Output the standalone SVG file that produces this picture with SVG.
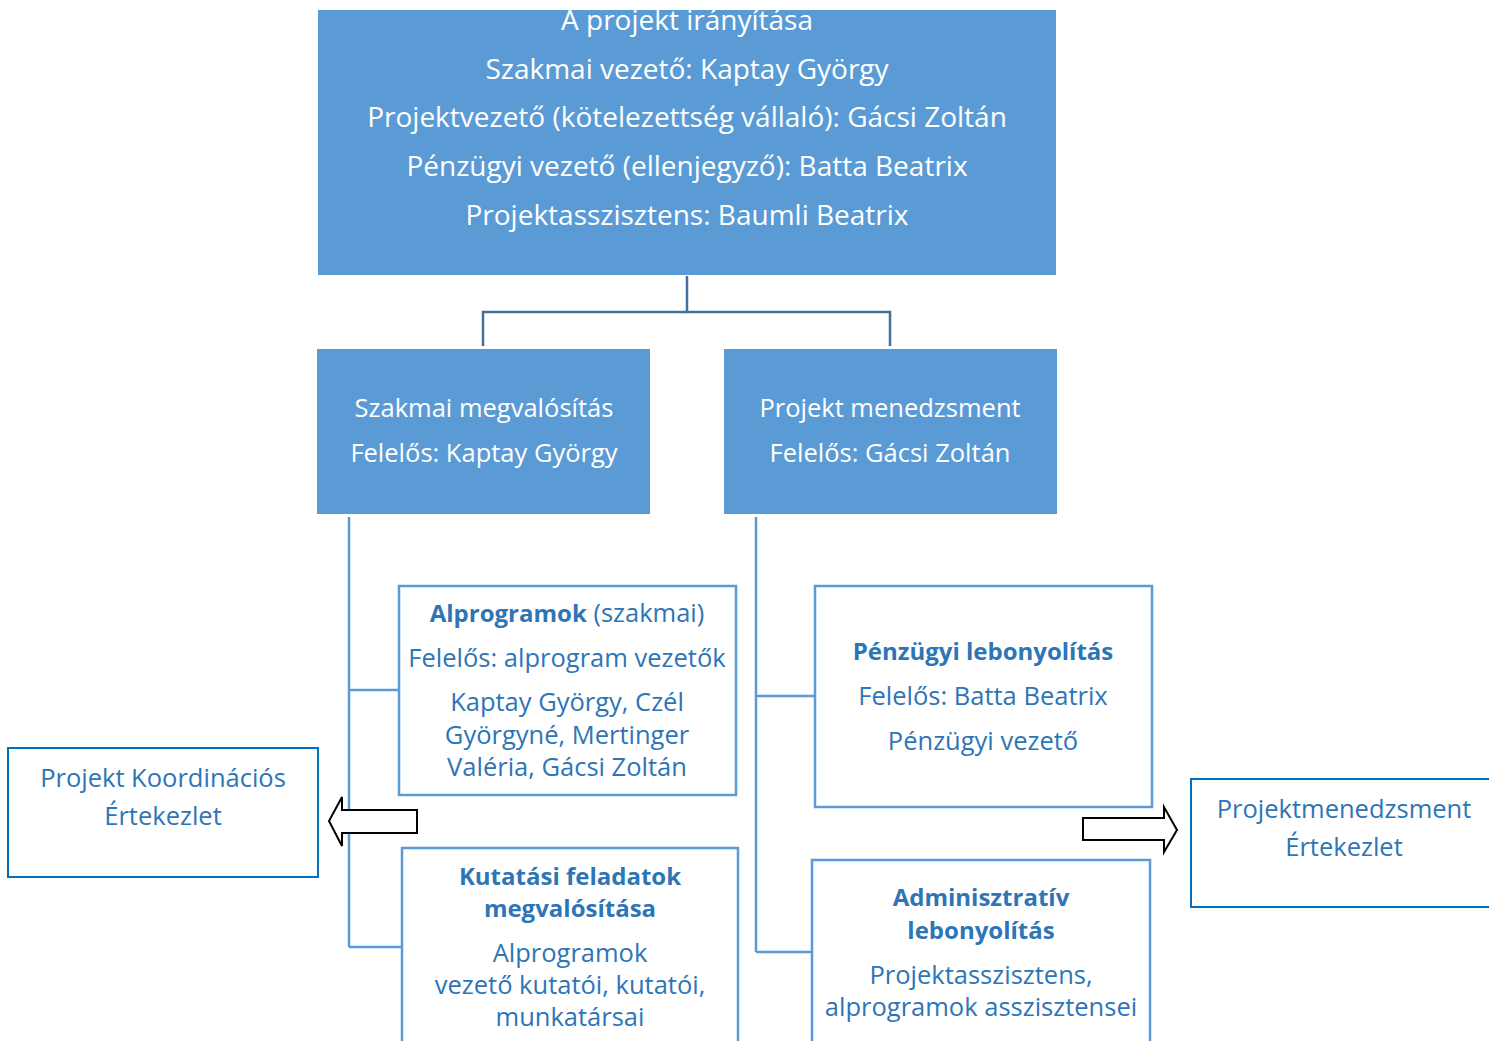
<svg xmlns="http://www.w3.org/2000/svg" width="1489" height="1041" viewBox="0 0 1489 1041">
<style>
text{font-family:"Open Sans","Noto Sans","Liberation Sans",sans-serif;text-anchor:middle}
.w{fill:#ffffff}
.b{fill:#2E75B6}
.t{font-size:28px}
.m{font-size:25.5px}
.s{font-size:25.5px}
.bold{font-weight:700;font-size:24px}
.filled{fill:#5B9BD5}
.box{fill:#ffffff;stroke:#5B9BD5;stroke-width:2.5}
.box2{fill:#ffffff;stroke:#0070C0;stroke-width:2}
.c1{fill:none;stroke:#41719C;stroke-width:2.5}
.c2{fill:none;stroke:#5B9BD5;stroke-width:2.5}
.arr{fill:#ffffff;stroke:#000000;stroke-width:2;stroke-linejoin:miter}
</style>
<rect width="1489" height="1041" fill="#ffffff"/>
<g id="connectors">
<polyline class="c1" points="687,276 687,312 483,312 483,346"/>
<polyline class="c1" points="687,312 890,312 890,346"/>
<line class="c2" x1="349" y1="517" x2="349" y2="947"/>
<line class="c2" x1="349" y1="690" x2="399" y2="690"/>
<line class="c2" x1="349" y1="947" x2="402" y2="947"/>
<line class="c2" x1="756" y1="517" x2="756" y2="952"/>
<line class="c2" x1="756" y1="696" x2="815" y2="696"/>
<line class="c2" x1="756" y1="952" x2="812" y2="952"/>
<polygon class="arr" points="417,810 342,810 342,797 329,821 342,846 342,833 417,833"/>
<polygon class="arr" points="1083,818 1164,818 1164,807 1177,830 1164,852 1164,840 1083,840"/>
</g>
<g id="top">
<rect class="filled" x="318" y="10" width="738" height="265"/>
<text class="w t" x="687" y="30">A projekt irányítása</text>
<text class="w t" x="687" y="79">Szakmai vezető: Kaptay György</text>
<text class="w t" x="687" y="127">Projektvezető (kötelezettség vállaló): Gácsi Zoltán</text>
<text class="w t" x="687" y="176">Pénzügyi vezető (ellenjegyző): Batta Beatrix</text>
<text class="w t" x="687" y="225">Projektasszisztens: Baumli Beatrix</text>
</g>
<g id="szakmai">
<rect class="filled" x="317" y="349" width="333" height="165"/>
<text class="w m" x="484" y="417">Szakmai megvalósítás</text>
<text class="w m" x="484" y="462">Felelős: Kaptay György</text>
</g>
<g id="menedzsment">
<rect class="filled" x="724" y="349" width="333" height="165"/>
<text class="w m" x="890" y="417">Projekt menedzsment</text>
<text class="w m" x="890" y="462">Felelős: Gácsi Zoltán</text>
</g>
<g id="alprogramok">
<rect class="box" x="399" y="586" width="337" height="209"/>
<text class="b s" x="567" y="622"><tspan class="bold">Alprogramok</tspan> (szakmai)</text>
<text class="b s" x="567" y="667">Felelős: alprogram vezetők</text>
<text class="b s" x="567" y="711">Kaptay György, Czél</text>
<text class="b s" x="567" y="744">Györgyné, Mertinger</text>
<text class="b s" x="567" y="776">Valéria, Gácsi Zoltán</text>
</g>
<g id="kutatasi">
<rect class="box" x="402" y="848" width="336" height="200"/>
<text class="b s bold" x="570" y="885">Kutatási feladatok</text>
<text class="b s bold" x="570" y="917">megvalósítása</text>
<text class="b s" x="570" y="962">Alprogramok</text>
<text class="b s" x="570" y="994">vezető kutatói, kutatói,</text>
<text class="b s" x="570" y="1026">munkatársai</text>
</g>
<g id="penzugyi">
<rect class="box" x="815" y="586" width="337" height="221"/>
<text class="b s bold" x="983" y="660">Pénzügyi lebonyolítás</text>
<text class="b s" x="983" y="705">Felelős: Batta Beatrix</text>
<text class="b s" x="983" y="750">Pénzügyi vezető</text>
</g>
<g id="adminisztrativ">
<rect class="box" x="812" y="860" width="338" height="190"/>
<text class="b s bold" x="981" y="906">Adminisztratív</text>
<text class="b s bold" x="981" y="939">lebonyolítás</text>
<text class="b s" x="981" y="984">Projektasszisztens,</text>
<text class="b s" x="981" y="1016">alprogramok asszisztensei</text>
</g>
<g id="koordinacios">
<rect class="box2" x="8" y="748" width="310" height="129"/>
<text class="b s" x="163" y="787">Projekt Koordinációs</text>
<text class="b s" x="163" y="825">Értekezlet</text>
</g>
<g id="pm-ertekezlet">
<rect class="box2" x="1191" y="779" width="310" height="128"/>
<text class="b s" x="1344" y="818">Projektmenedzsment</text>
<text class="b s" x="1344" y="856">Értekezlet</text>
</g>
</svg>
